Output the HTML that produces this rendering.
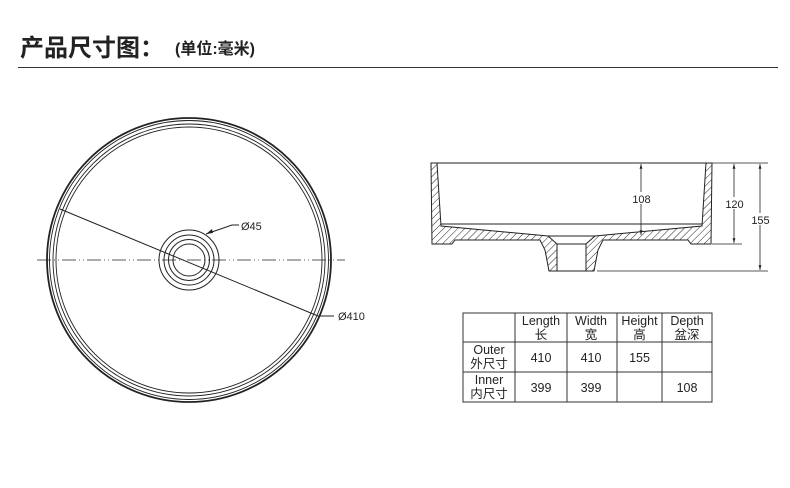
<!DOCTYPE html>
<html><head><meta charset="utf-8"><style>
html,body{margin:0;padding:0;background:#fff;width:790px;height:488px;overflow:hidden}
svg{display:block}
text{font-family:"Liberation Sans","Noto Sans CJK SC",sans-serif;fill:#222}
</style></head><body>
<svg width="790" height="488" viewBox="0 0 790 488" xmlns="http://www.w3.org/2000/svg">
<defs>
<pattern id="h" patternUnits="userSpaceOnUse" width="5" height="5" patternTransform="rotate(45)">
<line x1="0" y1="0" x2="0" y2="5" stroke="#222" stroke-width="1"/>
</pattern>
<marker id="a" viewBox="0 0 10 10" refX="10" refY="5" markerWidth="6" markerHeight="6" orient="auto-start-reverse"><path d="M0,2 L10,5 L0,8z" fill="#222"/></marker>
</defs>
<text x="20" y="56" font-size="24" font-weight="bold" font-family="'Noto Sans CJK SC',sans-serif" fill="#111">产品尺寸图：</text>
<text x="175" y="54" font-size="16" font-weight="bold" fill="#111">(单位:毫米)</text>
<line x1="18" y1="67.5" x2="778" y2="67.5" stroke="#333" stroke-width="1"/>

<!-- top view -->
<g fill="none" stroke="#222">
<circle cx="189" cy="260" r="142" stroke-width="1.8"/>
<circle cx="189" cy="260" r="139.5" stroke-width="0.9"/>
<circle cx="189" cy="260" r="136" stroke-width="0.9"/>
<circle cx="189" cy="260" r="133" stroke-width="0.9"/>
<circle cx="189" cy="260" r="30" stroke-width="1"/>
<circle cx="189" cy="260" r="25" stroke-width="1"/>
<circle cx="189" cy="260" r="20.5" stroke-width="1"/>
<circle cx="189" cy="260" r="16" stroke-width="1"/>
<line x1="37" y1="260" x2="345" y2="260" stroke-width="0.8" stroke-dasharray="14,3,1,3,1,3"/>
<line x1="60" y1="209" x2="318" y2="316" stroke-width="1"/>
<line x1="318" y1="316" x2="334" y2="316" stroke-width="1"/>
<polyline points="206,234 232,225 239,225" stroke-width="1"/>
</g>
<path d="M206,234 l6,-5 l1,4z" fill="#222"/>
<text x="241" y="230" font-size="11">Ø45</text>
<text x="338" y="320" font-size="11">Ø410</text>

<!-- section -->
<g stroke="#222" stroke-width="1">
<path d="M431,163 L437,163 L441,226 L548,236 L557,244 L557,271 L549,271 L545,250 L540,240 L455,240 L452,244 L432,244Z" fill="url(#h)"/>
<path d="M712,163 L706,163 L702,226 L595,236 L586,244 L586,271 L594,271 L598,250 L603,240 L688,240 L691,244 L711,244Z" fill="url(#h)"/>
<line x1="431" y1="163" x2="712" y2="163"/>
<line x1="441" y1="224" x2="702" y2="224"/>
<line x1="548" y1="236" x2="595" y2="236"/>
<line x1="557" y1="244" x2="586" y2="244"/>
<line x1="557" y1="271" x2="586" y2="271"/>
<line x1="712" y1="163" x2="768" y2="163" stroke-width="0.8"/>
<line x1="712" y1="244" x2="742" y2="244" stroke-width="0.8"/>
<line x1="597" y1="271" x2="768" y2="271" stroke-width="0.8"/>
<line x1="641" y1="164" x2="641" y2="235" stroke-width="0.8" marker-start="url(#a)" marker-end="url(#a)"/>
<line x1="734" y1="164" x2="734" y2="243" stroke-width="0.8" marker-start="url(#a)" marker-end="url(#a)"/>
<line x1="760" y1="164" x2="760" y2="270" stroke-width="0.8" marker-start="url(#a)" marker-end="url(#a)"/>
</g>
<rect x="632" y="192" width="19" height="12" fill="#fff"/>
<text x="641.5" y="203" font-size="11" text-anchor="middle">108</text>
<rect x="725" y="197" width="19" height="12" fill="#fff"/>
<text x="734.5" y="208" font-size="11" text-anchor="middle">120</text>
<rect x="751" y="213" width="19" height="12" fill="#fff"/>
<text x="760.5" y="224" font-size="11" text-anchor="middle">155</text>

<!-- table -->
<g stroke="#333" stroke-width="1" fill="none">
<rect x="463" y="313" width="249" height="89"/>
<line x1="515" y1="313" x2="515" y2="402"/>
<line x1="567" y1="313" x2="567" y2="402"/>
<line x1="617" y1="313" x2="617" y2="402"/>
<line x1="662" y1="313" x2="662" y2="402"/>
<line x1="463" y1="342" x2="712" y2="342"/>
<line x1="463" y1="372" x2="712" y2="372"/>
</g>
<g font-size="12.5" text-anchor="middle">
<text x="541" y="325">Length</text><text x="541" y="339">长</text>
<text x="591" y="325">Width</text><text x="591" y="339">宽</text>
<text x="639.5" y="325">Height</text><text x="639.5" y="339">高</text>
<text x="687" y="325">Depth</text><text x="687" y="339">盆深</text>
<text x="489" y="354">Outer</text><text x="489" y="368">外尺寸</text>
<text x="489" y="384">Inner</text><text x="489" y="398">内尺寸</text>
<text x="541" y="362">410</text><text x="591" y="362">410</text><text x="639.5" y="362">155</text>
<text x="541" y="392">399</text><text x="591" y="392">399</text><text x="687" y="392">108</text>
</g>
</svg>
</body></html>
